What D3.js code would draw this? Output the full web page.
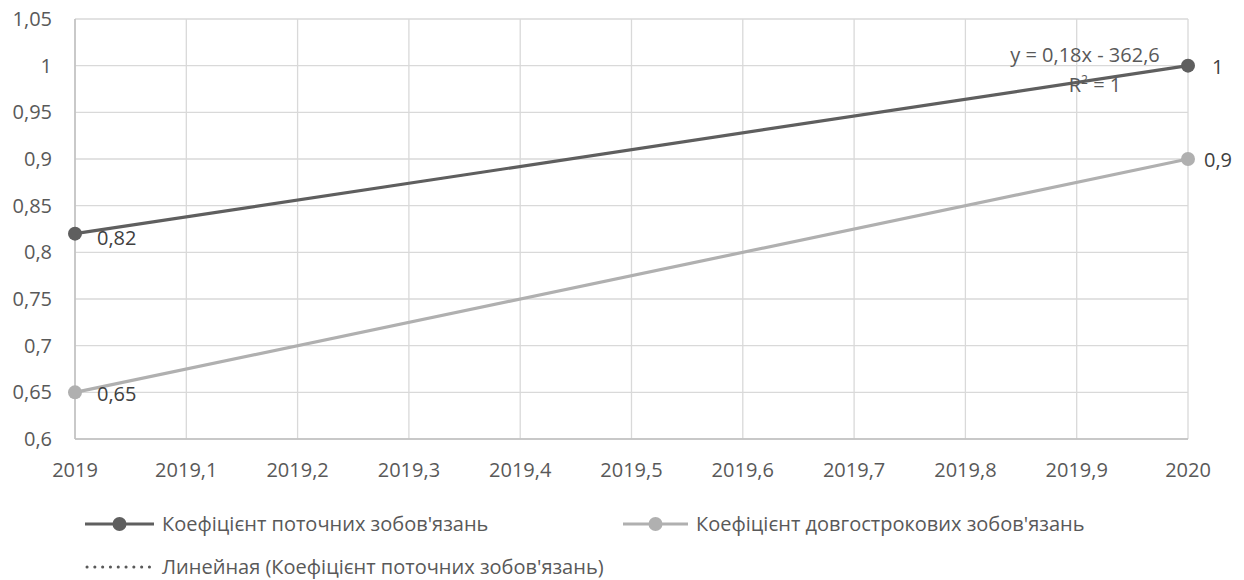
<!DOCTYPE html>
<html>
<head>
<meta charset="utf-8">
<script src="https://cdn.jsdelivr.net/npm/d3@7"></script>
<style>
  body { margin: 0; background: #fff; }
  text { font-family: "Open Sans", sans-serif; fill: #595959; }
</style>
</head>
<body>
<script>
// data
const years = [2019, 2020];
const currentRatio = [0.82, 1];
const longTermRatio = [0.65, 0.9];
const seriesNames = ["Коефіцієнт поточних зобов'язань", "Коефіцієнт довгострокових зобов'язань"];
const trendName = "Линейная (Коефіцієнт поточних зобов'язань)";
const trendEq = "y = 0,18x - 362,6";
const xTicks = [2019, 2019.1, 2019.2, 2019.3, 2019.4, 2019.5, 2019.6, 2019.7, 2019.8, 2019.9, 2020];
const yTicks = [0.6, 0.65, 0.7, 0.75, 0.8, 0.85, 0.9, 0.95, 1, 1.05];

const width = 1244, height = 580;
const margin = {top: 19, right: 56, bottom: 141, left: 75};
const fs = 20;
const fmt = v => String(+v.toFixed(2)).replace(".", ",");

const svg = d3.select("body").append("svg")
  .attr("width", width)
  .attr("height", height);

const x = d3.scaleLinear().domain([2019, 2020]).range([margin.left, width - margin.right]);
const y = d3.scaleLinear().domain([0.6, 1.05]).range([height - margin.bottom, margin.top]);

// grid
svg.append("g")
  .selectAll("line")
  .data(yTicks)
  .join("line")
  .attr("x1", margin.left).attr("x2", width - margin.right)
  .attr("y1", d => y(d)).attr("y2", d => y(d))
  .attr("stroke", "#d9d9d9").attr("stroke-width", 1.3);

svg.append("g")
  .selectAll("line")
  .data(xTicks)
  .join("line")
  .attr("x1", d => x(d)).attr("x2", d => x(d))
  .attr("y1", y(1.05)).attr("y2", y(0.6))
  .attr("stroke", "#d9d9d9").attr("stroke-width", 1.3);

// axis lines
svg.append("line")
  .attr("x1", margin.left).attr("x2", margin.left)
  .attr("y1", y(1.05)).attr("y2", y(0.6))
  .attr("stroke", "#bfbfbf").attr("stroke-width", 1.5);
svg.append("line")
  .attr("x1", margin.left).attr("x2", width - margin.right)
  .attr("y1", y(0.6)).attr("y2", y(0.6))
  .attr("stroke", "#bfbfbf").attr("stroke-width", 1.5);

// tick labels
svg.append("g")
  .selectAll("text")
  .data(yTicks)
  .join("text")
  .attr("x", 52)
  .attr("y", d => y(d))
  .attr("dy", "0.35em")
  .attr("text-anchor", "end")
  .attr("font-size", fs)
  .text(fmt);

svg.append("g")
  .selectAll("text")
  .data(xTicks)
  .join("text")
  .attr("x", d => x(d))
  .attr("y", y(0.6) + 38)
  .attr("text-anchor", "middle")
  .attr("font-size", fs)
  .text(fmt);

const line = d3.line().x(d => x(d[0])).y(d => y(d[1]));
const series = [
  {values: longTermRatio, color: "#b0b0b0"},
  {values: currentRatio, color: "#5f5f5f"}
];

series.forEach(s => {
  const pts = years.map((yr, i) => [yr, s.values[i]]);
  svg.append("path")
    .datum(pts)
    .attr("d", line)
    .attr("fill", "none")
    .attr("stroke", s.color)
    .attr("stroke-width", 3.2);
  svg.append("g")
    .selectAll("circle")
    .data(pts)
    .join("circle")
    .attr("cx", d => x(d[0])).attr("cy", d => y(d[1]))
    .attr("r", 7)
    .attr("fill", s.color);
});

// trend line (linear fit, coincides with the series)
const trendPts = years.map((yr, i) => [yr, currentRatio[i]]);
svg.append("path")
  .datum(trendPts)
  .attr("d", line)
  .attr("fill", "none")
  .attr("stroke", "#5f5f5f")
  .attr("stroke-width", 1.5)
  .attr("stroke-dasharray", "2,3");

// data labels
const lab = (xv, yv, dx, dy, t) => svg.append("text")
  .attr("x", x(xv) + dx).attr("y", y(yv) + dy)
  .attr("dy", "0.35em")
  .attr("font-size", fs)
  .style("fill", "#404040")
  .text(t);
lab(years[0], currentRatio[0], 22, 4, fmt(currentRatio[0]));
lab(years[0], longTermRatio[0], 22, 2, fmt(longTermRatio[0]));
lab(years[1], currentRatio[1], 24, 1, fmt(currentRatio[1]));
lab(years[1], longTermRatio[1], 16, 1, fmt(longTermRatio[1]));

// equation
svg.append("text")
  .attr("x", x(2020) - 103).attr("y", y(1) - 4)
  .attr("text-anchor", "middle")
  .attr("font-size", fs)
  .text(trendEq);
const r2 = svg.append("text")
  .attr("x", x(2020) - 93).attr("y", y(1) + 26)
  .attr("text-anchor", "middle")
  .attr("font-size", fs);
r2.append("tspan").text("R");
r2.append("tspan").attr("font-size", 12).attr("dy", -8).text("2");
r2.append("tspan").attr("dy", 8).text(" = 1");

// legend
const legend = svg.append("g");
const items = [
  {x: 85, y: 524, w: 69, color: "#5f5f5f", name: seriesNames[0], dotted: false},
  {x: 623, y: 524, w: 65, color: "#b0b0b0", name: seriesNames[1], dotted: false},
  {x: 85, y: 567, w: 69, color: "#595959", name: trendName, dotted: true}
];
items.forEach(it => {
  const g = legend.append("g").attr("transform", `translate(${it.x},${it.y})`);
  g.append("line")
    .attr("x1", it.dotted ? 2 : 0).attr("x2", it.w)
    .attr("stroke", it.color)
    .attr("stroke-width", it.dotted ? 3 : 3.2)
    .attr("stroke-linecap", it.dotted ? "round" : "butt")
    .attr("stroke-dasharray", it.dotted ? "0.1,7.7" : null);
  if (!it.dotted) g.append("circle").attr("cx", it.w / 2).attr("r", 7).attr("fill", it.color);
  g.append("text")
    .attr("x", it.w + 8).attr("dy", "0.35em")
    .attr("font-size", fs)
    .text(it.name);
});
</script>
</body>
</html>
